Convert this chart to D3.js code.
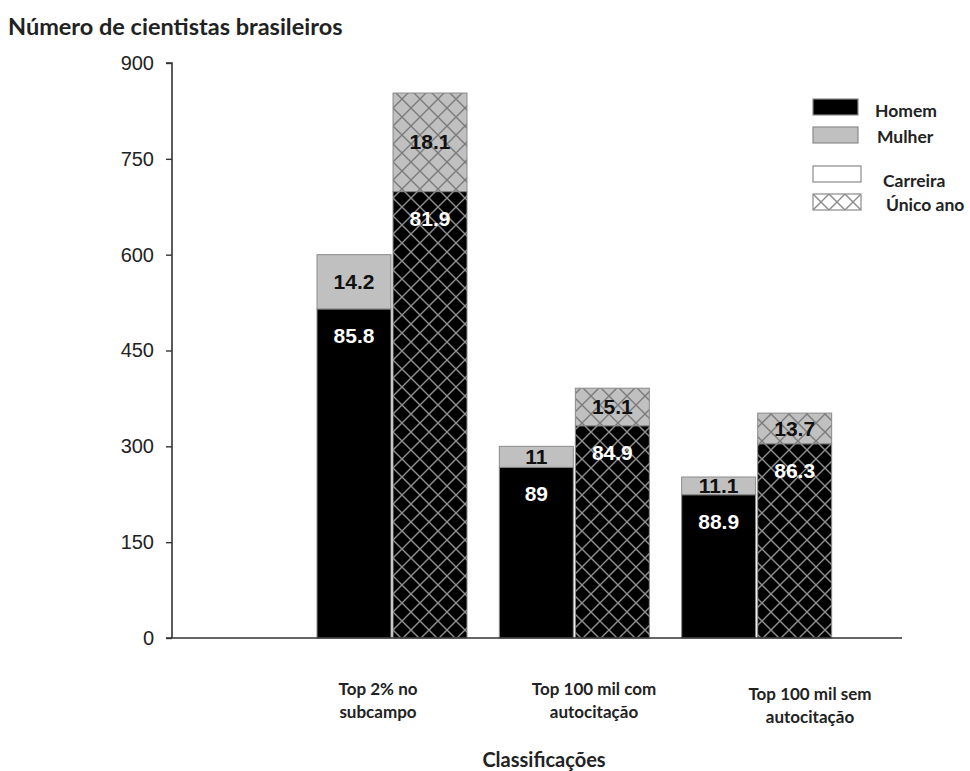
<!DOCTYPE html>
<html><head><meta charset="utf-8">
<script src="https://cdn.jsdelivr.net/npm/d3@7"></script>
<style>body{margin:0;background:#fff}</style>
</head><body>
<svg id="c" width="970" height="771"></svg>
<script>
const categories = ["Top 2% no subcampo", "Top 100 mil com autocitação", "Top 100 mil sem autocitação"];
const categoryLines = [["Top 2% no", "subcampo"], ["Top 100 mil com", "autocitação"], ["Top 100 mil sem", "autocitação"]];
const periods = ["Carreira", "Único ano"];
const totalCarreira = [600, 300, 252];
const totalUnico = [853, 391, 352];
const homemCarreira = [85.8, 89, 88.9];
const mulherCarreira = [14.2, 11, 11.1];
const homemUnico = [81.9, 84.9, 86.3];
const mulherUnico = [18.1, 15.1, 13.7];
const yTicks = [0, 150, 300, 450, 600, 750, 900];
const legendSex = ["Homem", "Mulher"];

const svg = d3.select("#c");
const defs = svg.append("defs");
function hatch(id, bg, line, size, ox, oy) {
  const p = defs.append("pattern").attr("id", id).attr("patternUnits", "userSpaceOnUse")
    .attr("width", size).attr("height", size).attr("x", ox || 0).attr("y", oy || 0);
  p.append("rect").attr("width", size).attr("height", size).attr("fill", bg);
  p.append("path").attr("d", `M0,0L${size},${size}M0,${size}L${size},0`)
    .attr("stroke", line).attr("stroke-width", 1.4).attr("fill", "none");
}
hatch("hb", "#000", "#909090", 18, 393, 0);
hatch("hg", "#c0c0c0", "#7a7a7a", 18, 393, 0);
hatch("hl", "#fff", "#8a8a8a", 16, 813, 194);

const y = d3.scaleLinear().domain([0, 900]).range([638, 63]);
const x = d3.scaleBand().domain(categories).range([301, 848]);
const xs = d3.scaleBand().domain(periods).range([16, 166]).paddingInner(0.027);
const xl = d3.scalePoint().domain(categories).range([378, 810]);

// bars
const rows = [];
categories.forEach((c, i) => {
  [[totalCarreira, homemCarreira, mulherCarreira, 0], [totalUnico, homemUnico, mulherUnico, 1]].forEach(([tot, h, m, k]) => {
    const hv = tot[i] * h[i] / 100;
    rows.push({c, p: periods[k], k, h: h[i], m: m[i], hv, tot: tot[i], i});
  });
});
const g = svg.append("g");
rows.forEach(r => {
  const bx = x(r.c) + xs(r.p), bw = xs.bandwidth();
  g.append("rect").attr("x", bx).attr("width", bw).attr("y", y(r.tot)).attr("height", y(r.hv) - y(r.tot))
    .attr("fill", r.k ? "url(#hg)" : "#c0c0c0").attr("stroke", "#8a8a8a").attr("stroke-width", 1);
  g.append("rect").attr("x", bx).attr("width", bw).attr("y", y(r.hv)).attr("height", y(0) - y(r.hv))
    .attr("fill", r.k ? "url(#hb)" : "#000").attr("stroke", "#8a8a8a").attr("stroke-width", 1);
  g.append("text").attr("x", bx + bw / 2).attr("y", (y(r.tot) + y(r.hv)) / 2 + 7)
    .attr("text-anchor", "middle").attr("font-family", "Liberation Sans, Arial").attr("font-weight", "bold")
    .attr("font-size", 21).attr("fill", "#111").text(r.m);
  g.append("text").attr("x", bx + bw / 2).attr("y", y(r.hv) + 34)
    .attr("text-anchor", "middle").attr("font-family", "Liberation Sans, Arial").attr("font-weight", "bold")
    .attr("font-size", 21).attr("fill", "#fff").text(r.h);
});

// y axis
const ax = svg.append("g").attr("transform", "translate(172,0)")
  .call(d3.axisLeft(y).tickValues(yTicks).tickSize(6).tickPadding(12).tickFormat(d3.format("d")));
ax.select(".domain").attr("stroke", "#333").attr("stroke-width", 1.6).attr("d", `M-6,${y(900)}H0V${y(0)}`);
ax.selectAll(".tick line").attr("stroke", "#333").attr("stroke-width", 1.4);
ax.selectAll(".tick text").attr("font-family", "Liberation Sans, Arial").attr("font-size", 20).attr("fill", "#222");
// baseline
svg.append("line").attr("x1", 166).attr("x2", 902).attr("y1", y(0)).attr("y2", y(0)).attr("stroke", "#333").attr("stroke-width", 1.6);

// category labels
categories.forEach((c, i) => {
  const t = svg.append("text").attr("text-anchor", "middle").attr("font-family", "Lato, Open Sans").attr("font-weight", "bold")
    .attr("font-size", 17).attr("fill", "#222");
  const y0 = i === 2 ? 700 : 695;
  categoryLines[i].forEach((ln, j) => t.append("tspan").attr("x", xl(c)).attr("y", y0 + j * 23).text(ln));
});
svg.append("text").attr("x", 544).attr("y", 767).attr("text-anchor", "middle").attr("font-family", "Lato, Open Sans")
  .attr("font-weight", "bold").attr("font-size", 20).attr("fill", "#222").text("Classificações");
svg.append("text").attr("x", 8).attr("y", 35).attr("font-family", "Lato, Open Sans")
  .attr("font-weight", "bold").attr("font-size", 23.5).attr("fill", "#222").text("Número de cientistas brasileiros");

// legend
const lg = svg.append("g").attr("font-family", "Lato, Open Sans").attr("font-weight", "bold").attr("font-size", 17.5).attr("fill", "#222");
const legendItems = [
  {t: legendSex[0], fill: "#000", ry: 99, w: 45, tx: 875, ty: 117},
  {t: legendSex[1], fill: "#c0c0c0", ry: 127, w: 45, tx: 877, ty: 143},
  {t: periods[0], fill: "#fff", ry: 166, w: 48, tx: 883, ty: 187},
  {t: periods[1], fill: "url(#hl)", ry: 194, w: 48, tx: 886, ty: 211}
];
legendItems.forEach(d => {
  lg.append("rect").attr("x", 813).attr("y", d.ry).attr("width", d.w).attr("height", 16).attr("fill", d.fill)
    .attr("stroke", "#8a8a8a").attr("stroke-width", 1.2);
  lg.append("text").attr("x", d.tx).attr("y", d.ty).text(d.t);
});
</script>
</body></html>
